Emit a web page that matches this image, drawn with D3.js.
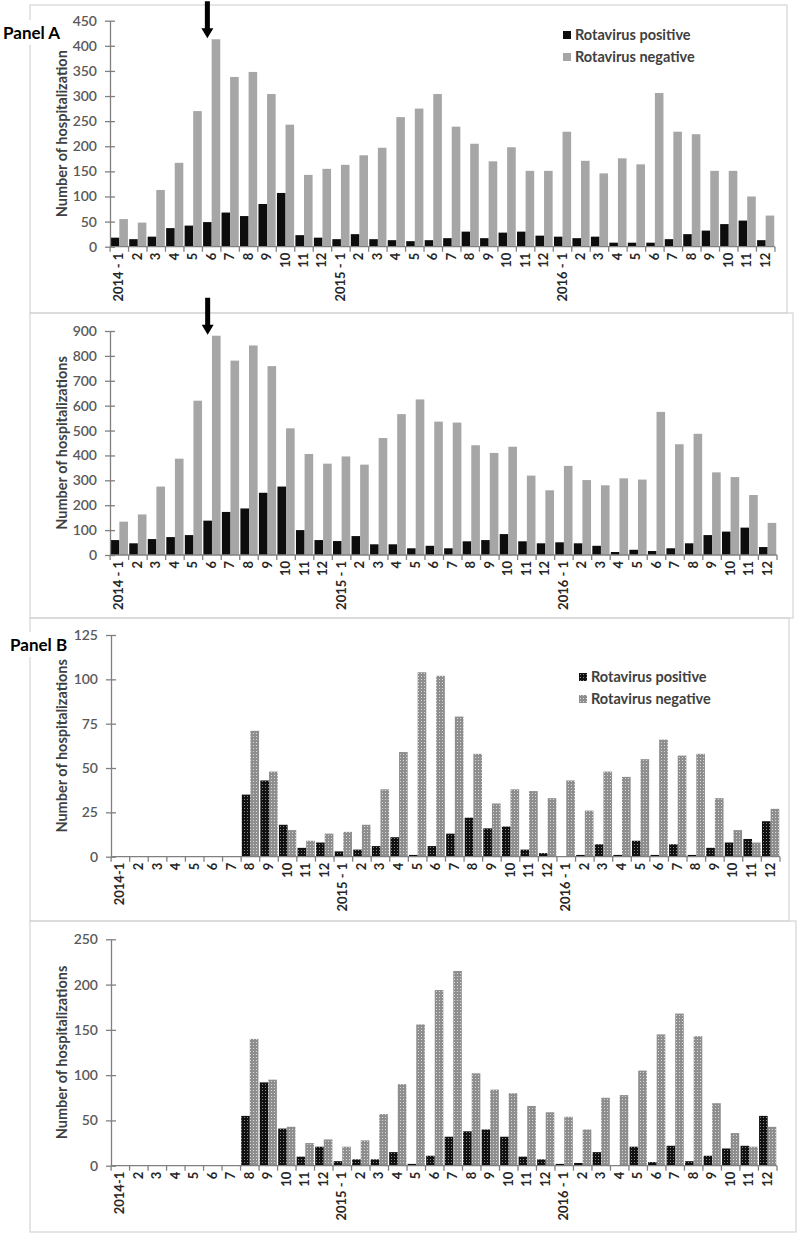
<!DOCTYPE html>
<html><head><meta charset="utf-8">
<script src="https://cdn.jsdelivr.net/npm/d3@7"></script>
<style>
html,body{margin:0;padding:0;background:#fff;}
svg{display:block;font-family:Lato, "Open Sans", sans-serif;}
</style></head>
<body>
<script>
// ---------- data ----------
const labelsA = ["2014 - 1","2","3","4","5","6","7","8","9","10","11","12",
                 "2015 - 1","2","3","4","5","6","7","8","9","10","11","12",
                 "2016 - 1","2","3","4","5","6","7","8","9","10","11","12"];
const labelsB = ["2014-1","2","3","4","5","6","7","8","9","10","11","12",
                 "2015 - 1","2","3","4","5","6","7","8","9","10","11","12",
                 "2016 - 1","2","3","4","5","6","7","8","9","10","11","12"];
const seriesNames = ["Rotavirus positive","Rotavirus negative"];

// Panel A, chart 1
const posA1 = [18,15,20,37,42,49,68,61,85,107,23,18, 15,25,15,13,11,13,17,30,17,28,30,22, 20,17,20,8,8,8,15,25,32,45,52,13];
const negA1 = [55,48,113,167,270,413,338,348,304,243,143,155, 163,182,197,258,275,304,239,205,170,198,151,151, 229,171,146,176,164,306,229,224,151,151,100,62];
// Panel A, chart 2
const posA2 = [60,47,64,72,80,138,173,187,250,275,100,60, 56,76,43,43,27,37,27,55,60,84,55,47, 51,47,37,12,21,16,27,47,80,94,110,32];
const negA2 = [134,163,275,387,620,881,781,842,759,509,406,367, 396,363,470,566,625,536,532,441,410,435,319,260, 358,301,280,308,303,575,445,487,332,313,241,129];
// Panel B, chart 1
const posB1 = [0,0,0,0,0,0,0,35,43,18,5,8, 3,4,6,11,1,6,13,22,16,17,4,2, 0,1,7,1,9,1,7,1,5,8,10,20];
const negB1 = [0,0,0,0,0,0,0,71,48,15,9,13, 14,18,38,59,104,102,79,58,30,38,37,33, 43,26,48,45,55,66,57,58,33,15,8,27];
// Panel B, chart 2
const posB2 = [0,0,0,0,0,0,0,55,92,41,10,21, 5,7,7,15,2,11,32,38,40,32,10,7, 2,3,15,0,21,4,22,5,11,19,22,55];
const negB2 = [0,0,0,0,0,0,0,140,95,43,25,29, 21,28,57,90,156,194,215,102,84,80,66,59, 54,40,75,78,105,145,168,143,69,36,21,43];

// ---------- layout ----------
const charts = [
  {box:[30,5,787,313], x0:110, x1:775, yTop:20.7, yBot:246.7, max:450, step:50,
   pos:posA1, neg:negA1, labels:labelsA, ylabel:"Number of hospitalization",
   legend:[563,31], arrow:5, dotted:false, panel:"Panel A", panelPos:[3,39]},
  {box:[30,313,793,618], x0:110, x1:777, yTop:331, yBot:555, max:900, step:100,
   pos:posA2, neg:negA2, labels:labelsA, ylabel:"Number of hospitalizations",
   legend:null, arrow:5, dotted:false},
  {box:[30,618,789,921], x0:111, x1:780, yTop:635, yBot:856.7, max:125, step:25,
   pos:posB1, neg:negB1, labels:labelsB, ylabel:"Number of hospitalizations",
   legend:[579,673], arrow:null, dotted:true, panel:"Panel B", panelPos:[10,651]},
  {box:[30,921,796,1232], x0:111, x1:777, yTop:939.3, yBot:1165.7, max:250, step:50,
   pos:posB2, neg:negB2, labels:labelsB, ylabel:"Number of hospitalizations",
   legend:null, arrow:null, dotted:true}
];

const svg = d3.select("body").append("svg").attr("width",800).attr("height",1235);
const defs = svg.append("defs");
function dotPattern(id, bg, dot){
  const p = defs.append("pattern").attr("id",id).attr("patternUnits","userSpaceOnUse")
    .attr("width",3).attr("height",3);
  p.append("rect").attr("width",3).attr("height",3).attr("fill",bg);
  p.append("rect").attr("x",1).attr("y",1).attr("width",1).attr("height",1).attr("fill",dot);
}
dotPattern("dotPos","#111111","#8a8a8a");
dotPattern("dotNeg","#8e8e8e","#d8d8d8");

const colPos = "#0d0d0d", colNeg = "#a6a6a6";
const axisCol = "#808080", txtCol = "#404040";

charts.forEach((c,ci)=>{
  const g = svg.append("g");
  // frame
  g.append("rect").attr("x",c.box[0]).attr("y",c.box[1])
    .attr("width",c.box[2]-c.box[0]).attr("height",c.box[3]-c.box[1])
    .attr("fill","none").attr("stroke","#d4d4d4").attr("stroke-width",1.2);

  const idx = d3.range(c.labels.length);
  const x = d3.scaleBand().domain(idx).range([c.x0,c.x1]).paddingInner(0.07).paddingOuter(0.04);
  const xs = d3.scaleBand().domain([0,1]).range([0,x.bandwidth()]);
  const y = d3.scaleLinear().domain([0,c.max]).range([c.yBot,c.yTop]);

  // bars
  const series = [c.pos, c.neg];
  series.forEach((vals,si)=>{
    g.append("g").selectAll("rect").data(vals).join("rect")
      .attr("x",(d,i)=>x(i)+xs(si))
      .attr("y",d=>y(d))
      .attr("width",xs.bandwidth())
      .attr("height",d=>c.yBot-y(d))
      .attr("fill", c.dotted ? (si===0?"url(#dotPos)":"url(#dotNeg)") : (si===0?colPos:colNeg));
  });

  // y axis
  const yAxis = d3.axisLeft(y).tickValues(d3.range(0,c.max+1,c.step)).tickSize(0).tickPadding(13);
  const ya = g.append("g").attr("transform",`translate(${c.x0},0)`).call(yAxis);
  ya.select(".domain").attr("stroke",axisCol).attr("stroke-width",1.3);
  ya.selectAll(".tick line").remove();
  ya.selectAll(".tick").append("line").attr("x1",-5).attr("x2",5)
    .attr("stroke",axisCol).attr("stroke-width",1.3);
  ya.selectAll("text").attr("fill","#595959").attr("font-size",14).attr("font-weight",600)
    .attr("font-family","Lato");

  // x axis
  const xa = g.append("g").attr("transform",`translate(0,${c.yBot})`);
  xa.append("line").attr("x1",c.x0).attr("x2",c.x1).attr("stroke",axisCol).attr("stroke-width",1.3);
  const bounds = idx.map(i=>x(i)-x.step()*x.paddingInner()/2).concat([c.x1]);
  xa.selectAll("line.tk").data(bounds).join("line").attr("class","tk")
    .attr("x1",d=>d).attr("x2",d=>d).attr("y1",0).attr("y2",5)
    .attr("stroke",axisCol).attr("stroke-width",1.3);
  xa.selectAll("text").data(idx).join("text")
    .attr("transform",i=>`translate(${x(i)+x.bandwidth()/2+4},6) rotate(-90)`)
    .attr("text-anchor","end")
    .attr("fill","#262626").attr("font-size",13).attr("font-weight",700)
    .text(i=>c.labels[i]);

  // y label
  g.append("text")
    .attr("transform",`translate(${67},${(c.yTop+c.yBot)/2}) rotate(-90)`)
    .attr("text-anchor","middle").attr("fill",txtCol)
    .attr("font-size",14.5).attr("font-weight",700)
    .text(c.ylabel);

  // legend
  if(c.legend){
    const lg = g.append("g").attr("transform",`translate(${c.legend[0]},${c.legend[1]})`);
    seriesNames.forEach((n,si)=>{
      lg.append("rect").attr("x",0).attr("y",si*22).attr("width",8).attr("height",8)
        .attr("fill", c.dotted ? (si===0?"url(#dotPos)":"url(#dotNeg)") : (si===0?colPos:colNeg));
      lg.append("text").attr("x",12).attr("y",si*22+9).attr("fill",txtCol)
        .attr("font-size",14.5).attr("font-weight",700).text(n);
    });
  }

  // arrow
  if(c.arrow!==null){
    const ax = x(c.arrow)+xs.bandwidth()/2;
    const tip = y(c.neg[c.arrow]) - 1;
    const top = tip-37;
    g.append("path")
      .attr("d",`M${ax-2.5},${top} L${ax+2.5},${top} L${ax+2.5},${tip-10} L${ax+6},${tip-10} L${ax},${tip} L${ax-6},${tip-10} L${ax-2.5},${tip-10} Z`)
      .attr("fill","#000");
  }

  // panel label
  if(c.panel){
    const t = svg.append("text").attr("x",c.panelPos[0]).attr("y",c.panelPos[1])
      .attr("font-size",17).attr("font-weight",700).attr("fill","#000").text(c.panel);
    const bb = t.node().getBBox();
    svg.insert("rect", function(){return t.node();})
      .attr("x",bb.x-1).attr("y",bb.y-2).attr("width",bb.width+2).attr("height",bb.height+4)
      .attr("fill","#fff");
  }
});
</script>
</body></html>
